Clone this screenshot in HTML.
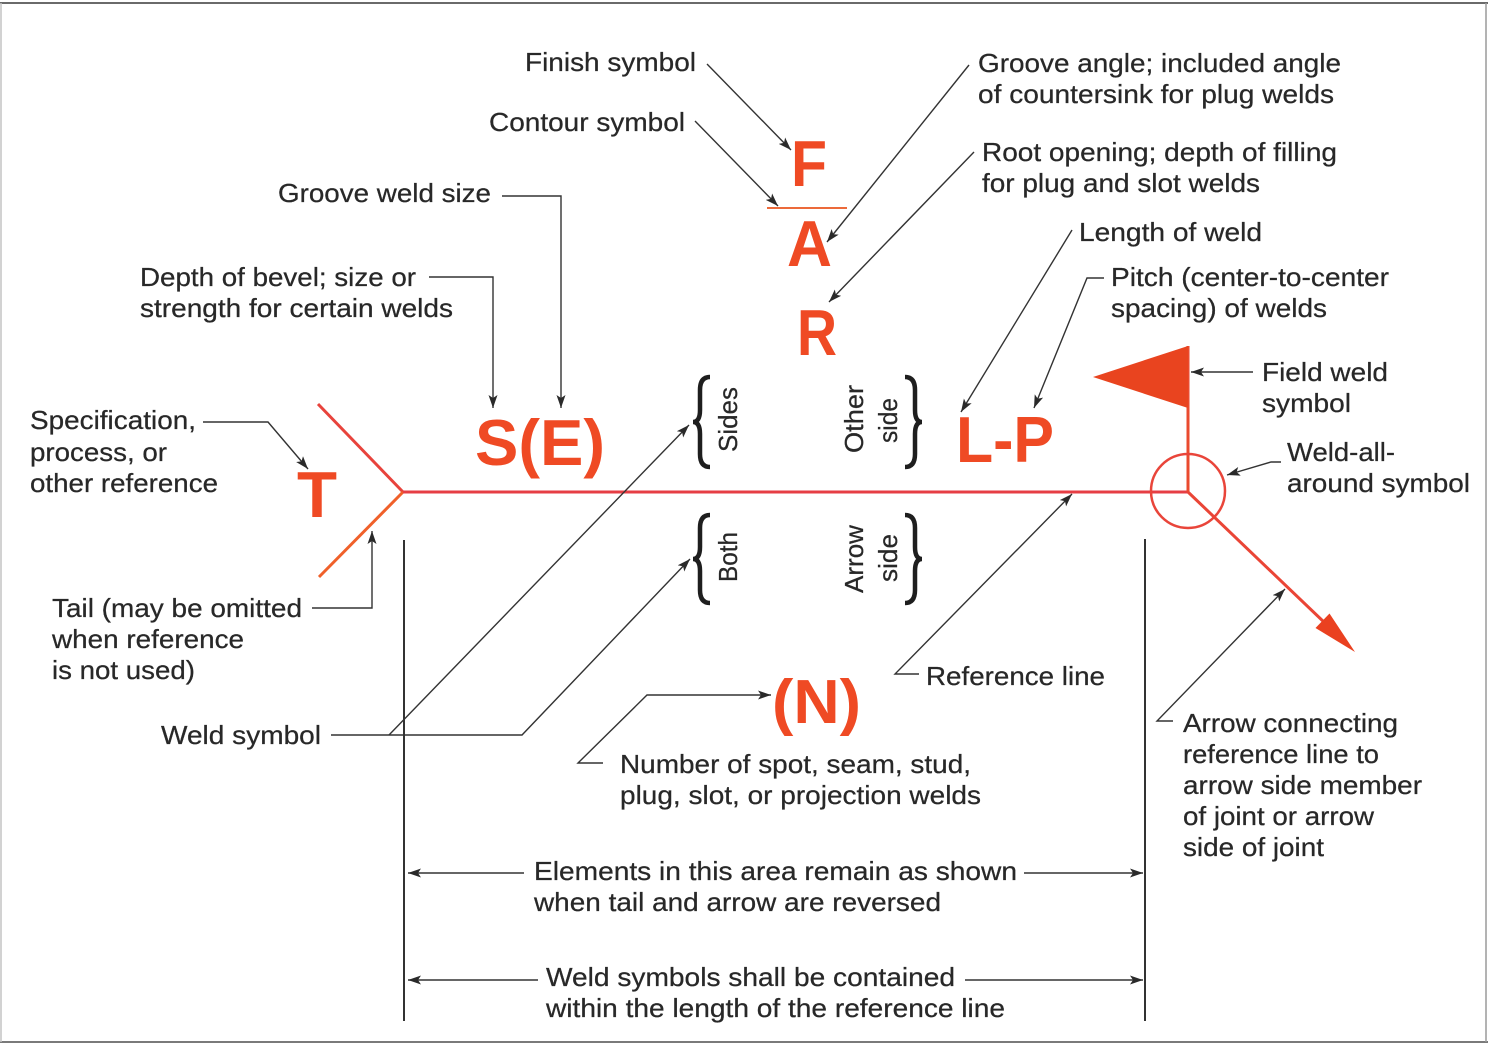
<!DOCTYPE html>
<html>
<head>
<meta charset="utf-8">
<style>
html,body{margin:0;padding:0;background:#fff;}
svg{display:block;}
.t{font-family:"Liberation Sans",Arial,sans-serif;font-size:26px;fill:#282828;stroke:#282828;stroke-width:0.25;}
.r{font-family:"Liberation Sans",Arial,sans-serif;font-weight:bold;font-size:65px;fill:#ef4a24;}
.ld{fill:none;stroke:#333;stroke-width:1.4;}
</style>
</head>
<body>
<svg width="1488" height="1046" viewBox="0 0 1488 1046" xmlns="http://www.w3.org/2000/svg">
<defs>
<marker id="a" markerUnits="userSpaceOnUse" markerWidth="16" markerHeight="10" refX="13" refY="4.5" orient="auto">
<path d="M0,0 L13,4.5 L0,9 L3,4.5 Z" fill="#2a2a2a"/>
</marker>
</defs>
<rect x="0" y="0" width="1488" height="1046" fill="#ffffff"/>
<!-- frame -->
<line x1="0" y1="3" x2="1488" y2="3" stroke="#6a6a6a" stroke-width="2"/>
<line x1="0" y1="1042" x2="1488" y2="1042" stroke="#7a7a7a" stroke-width="2"/>
<line x1="1486" y1="3" x2="1486" y2="1042" stroke="#9a9a9a" stroke-width="1.5"/>
<line x1="1" y1="3" x2="1" y2="1042" stroke="#c4c4c4" stroke-width="1.5"/>

<!-- vertical limit lines -->
<line x1="404" y1="540" x2="404" y2="1021" stroke="#333" stroke-width="2"/>
<line x1="1145" y1="539" x2="1145" y2="1021" stroke="#333" stroke-width="2"/>

<!-- red weld symbol parts -->
<path d="M318,404 L403,492" stroke="#e8433c" stroke-width="3" fill="none"/>
<path d="M403,492 L319,577" stroke="#f0602a" stroke-width="3" fill="none"/>
<path d="M403,492 H1188" stroke="#e63e44" stroke-width="3" fill="none"/>
<path d="M1188,492 V346" stroke="#ea4a2e" stroke-width="3" fill="none"/>
<polygon points="1188,346 1093,377 1188,408" fill="#e9441f"/>
<circle cx="1188" cy="491" r="37" fill="none" stroke="#e9453a" stroke-width="2.5"/>
<path d="M1188,492 L1326,624" stroke="#ea4536" stroke-width="3" fill="none"/>
<polygon points="1355,652 1315.5,628 1329.5,613.5" fill="#ea4120"/>
<line x1="767" y1="208" x2="847" y2="208" stroke="#ec6a3a" stroke-width="2"/>

<!-- red letters -->
<text class="r" x="791" y="186" textLength="36" lengthAdjust="spacingAndGlyphs">F</text>
<text class="r" x="787" y="266" textLength="45" lengthAdjust="spacingAndGlyphs">A</text>
<text class="r" x="797" y="355" textLength="40" lengthAdjust="spacingAndGlyphs">R</text>
<text class="r" x="297" y="517" textLength="40" lengthAdjust="spacingAndGlyphs">T</text>
<text class="r" x="475" y="465" textLength="130" lengthAdjust="spacingAndGlyphs">S(E)</text>
<text class="r" x="956" y="462" textLength="98" lengthAdjust="spacingAndGlyphs">L-P</text>
<text class="r" x="772" y="723" style="font-size:62px" textLength="89" lengthAdjust="spacingAndGlyphs">(N)</text>

<!-- braces -->
<path d="M710,377 Q700,377 700,390 L700,410 Q700,422 693,422 Q700,422 700,434 L700,454 Q700,467 710,467" fill="none" stroke="#1e1e1e" stroke-width="4.5"/>
<path d="M905,377 Q915,377 915,390 L915,410 Q915,422 922,422 Q915,422 915,434 L915,454 Q915,467 905,467" fill="none" stroke="#1e1e1e" stroke-width="4.5"/>
<path d="M710,515 Q700,515 700,528 L700,547 Q700,559 693,559 Q700,559 700,571 L700,590 Q700,603 710,603" fill="none" stroke="#1e1e1e" stroke-width="4.5"/>
<path d="M905,515 Q915,515 915,528 L915,547 Q915,559 922,559 Q915,559 915,571 L915,590 Q915,603 905,603" fill="none" stroke="#1e1e1e" stroke-width="4.5"/>

<!-- rotated labels -->
<text class="t" transform="translate(737,452) rotate(-90)" textLength="65" lengthAdjust="spacingAndGlyphs">Sides</text>
<text class="t" transform="translate(863,453) rotate(-90)" textLength="68" lengthAdjust="spacingAndGlyphs">Other</text>
<text class="t" transform="translate(897,443) rotate(-90)" textLength="45" lengthAdjust="spacingAndGlyphs">side</text>
<text class="t" transform="translate(737,582) rotate(-90)" textLength="50" lengthAdjust="spacingAndGlyphs">Both</text>
<text class="t" transform="translate(863,593) rotate(-90)" textLength="68" lengthAdjust="spacingAndGlyphs">Arrow</text>
<text class="t" transform="translate(897,582) rotate(-90)" textLength="48" lengthAdjust="spacingAndGlyphs">side</text>

<!-- leaders -->
<path class="ld" d="M707,64 L791,150" marker-end="url(#a)"/>
<path class="ld" d="M695,121 L778,206" marker-end="url(#a)"/>
<path class="ld" d="M502,196 H561 V408" marker-end="url(#a)"/>
<path class="ld" d="M429,277 H493 V408" marker-end="url(#a)"/>
<path class="ld" d="M203,422 H268 L308,469" marker-end="url(#a)"/>
<path class="ld" d="M969,65 L827,242" marker-end="url(#a)"/>
<path class="ld" d="M974,152 L829,302" marker-end="url(#a)"/>
<path class="ld" d="M1072,230 L961,412" marker-end="url(#a)"/>
<path class="ld" d="M1104,278 H1087 L1034,408" marker-end="url(#a)"/>
<path class="ld" d="M1253,372 H1191" marker-end="url(#a)"/>
<path class="ld" d="M1281,462 H1271 L1227,475" marker-end="url(#a)"/>
<path class="ld" d="M312,608 H372 V531" marker-end="url(#a)"/>
<path class="ld" d="M331,735 H522 L690,559" marker-end="url(#a)"/>
<path class="ld" d="M389,735 L689,425" marker-end="url(#a)"/>
<path class="ld" d="M603,763 H578 L647,695 H771" marker-end="url(#a)"/>
<path class="ld" d="M919,674 H895 L1072,494" marker-end="url(#a)"/>
<path class="ld" d="M1173,721 H1157 L1285,589" marker-end="url(#a)"/>
<path class="ld" d="M524,873 H408" marker-end="url(#a)"/>
<path class="ld" d="M1024,873 H1143" marker-end="url(#a)"/>
<path class="ld" d="M538,980 H408" marker-end="url(#a)"/>
<path class="ld" d="M965,980 H1143" marker-end="url(#a)"/>

<!-- labels -->
<text class="t" x="525" y="71" textLength="171" lengthAdjust="spacingAndGlyphs">Finish symbol</text>
<text class="t" x="489" y="131" textLength="196" lengthAdjust="spacingAndGlyphs">Contour symbol</text>
<text class="t" x="278" y="202" textLength="213" lengthAdjust="spacingAndGlyphs">Groove weld size</text>
<text class="t" x="140" y="286" textLength="276" lengthAdjust="spacingAndGlyphs">Depth of bevel; size or</text>
<text class="t" x="140" y="317" textLength="313" lengthAdjust="spacingAndGlyphs">strength for certain welds</text>
<text class="t" x="30" y="429" textLength="166" lengthAdjust="spacingAndGlyphs">Specification,</text>
<text class="t" x="30" y="461" textLength="137" lengthAdjust="spacingAndGlyphs">process, or</text>
<text class="t" x="30" y="492" textLength="188" lengthAdjust="spacingAndGlyphs">other reference</text>

<text class="t" x="978" y="72" textLength="363" lengthAdjust="spacingAndGlyphs">Groove angle; included angle</text>
<text class="t" x="978" y="103" textLength="356" lengthAdjust="spacingAndGlyphs">of countersink for plug welds</text>
<text class="t" x="982" y="161" textLength="355" lengthAdjust="spacingAndGlyphs">Root opening; depth of filling</text>
<text class="t" x="982" y="192" textLength="278" lengthAdjust="spacingAndGlyphs">for plug and slot welds</text>
<text class="t" x="1079" y="241" textLength="183" lengthAdjust="spacingAndGlyphs">Length of weld</text>
<text class="t" x="1111" y="286" textLength="278" lengthAdjust="spacingAndGlyphs">Pitch (center-to-center</text>
<text class="t" x="1111" y="317" textLength="216" lengthAdjust="spacingAndGlyphs">spacing) of welds</text>
<text class="t" x="1262" y="381" textLength="126" lengthAdjust="spacingAndGlyphs">Field weld</text>
<text class="t" x="1262" y="412" textLength="89" lengthAdjust="spacingAndGlyphs">symbol</text>
<text class="t" x="1287" y="461" textLength="108" lengthAdjust="spacingAndGlyphs">Weld-all-</text>
<text class="t" x="1287" y="492" textLength="183" lengthAdjust="spacingAndGlyphs">around symbol</text>

<text class="t" x="52" y="617" textLength="250" lengthAdjust="spacingAndGlyphs">Tail (may be omitted</text>
<text class="t" x="52" y="648" textLength="192" lengthAdjust="spacingAndGlyphs">when reference</text>
<text class="t" x="52" y="679" textLength="143" lengthAdjust="spacingAndGlyphs">is not used)</text>
<text class="t" x="161" y="744" textLength="160" lengthAdjust="spacingAndGlyphs">Weld symbol</text>

<text class="t" x="620" y="773" textLength="351" lengthAdjust="spacingAndGlyphs">Number of spot, seam, stud,</text>
<text class="t" x="620" y="804" textLength="361" lengthAdjust="spacingAndGlyphs">plug, slot, or projection welds</text>
<text class="t" x="926" y="685" textLength="179" lengthAdjust="spacingAndGlyphs">Reference line</text>

<text class="t" x="1183" y="732" textLength="215" lengthAdjust="spacingAndGlyphs">Arrow connecting</text>
<text class="t" x="1183" y="763" textLength="196" lengthAdjust="spacingAndGlyphs">reference line to</text>
<text class="t" x="1183" y="794" textLength="239" lengthAdjust="spacingAndGlyphs">arrow side member</text>
<text class="t" x="1183" y="825" textLength="191" lengthAdjust="spacingAndGlyphs">of joint or arrow</text>
<text class="t" x="1183" y="856" textLength="141" lengthAdjust="spacingAndGlyphs">side of joint</text>

<text class="t" x="534" y="880" textLength="483" lengthAdjust="spacingAndGlyphs">Elements in this area remain as shown</text>
<text class="t" x="534" y="911" textLength="407" lengthAdjust="spacingAndGlyphs">when tail and arrow are reversed</text>
<text class="t" x="546" y="986" textLength="409" lengthAdjust="spacingAndGlyphs">Weld symbols shall be contained</text>
<text class="t" x="546" y="1017" textLength="459" lengthAdjust="spacingAndGlyphs">within the length of the reference line</text>
</svg>
</body>
</html>
